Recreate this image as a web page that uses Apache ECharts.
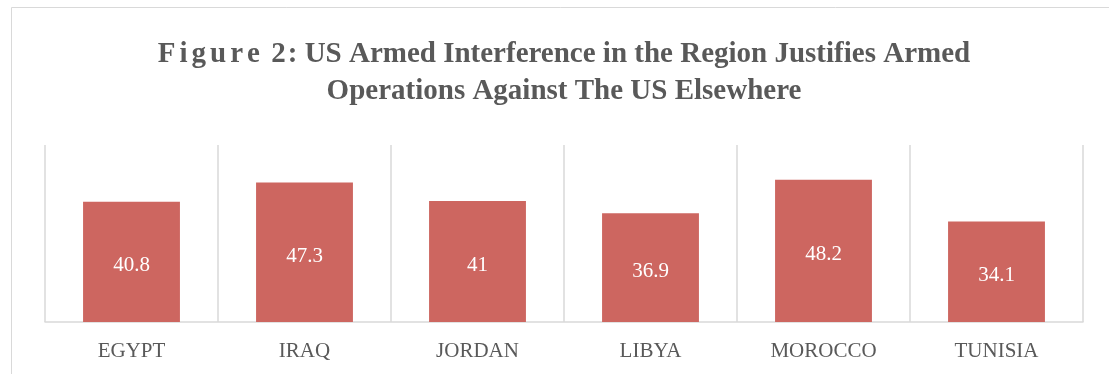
<!DOCTYPE html>
<html>
<head>
<meta charset="utf-8">
<script src="https://cdn.jsdelivr.net/npm/echarts@6/dist/echarts.min.js"></script>
<style>
html,body{margin:0;padding:0;background:#fff;}
#chart{width:1109px;height:374px;}
</style>
</head>
<body>
<div id="chart"></div>
<script>
const titleWord = 'Figure';
const titleNumber = '2:';
const titleLine1Rest = ' US Armed Interference in the Region Justifies Armed';
const titleLine2 = 'Operations Against The US Elsewhere';
const categories = ['EGYPT', 'IRAQ', 'JORDAN', 'LIBYA', 'MOROCCO', 'TUNISIA'];
const values = [40.8, 47.3, 41, 36.9, 48.2, 34.1];

const serif = '"Liberation Serif", "Times New Roman", serif';
const titleBase = {
  fontFamily: serif,
  fontWeight: 'bold',
  fontSize: 29,
  lineHeight: 37,
  color: '#595959'
};
const spacedWord = titleWord.split('').map(ch => '{sp|' + ch + '}').join('');
const titleText = spacedWord + '{t| }{sn|2}{t|:' + titleLine1Rest + '}\n{t|' + titleLine2 + '}';

const chart = echarts.init(document.getElementById('chart'), null, {renderer: 'canvas'});
chart.setOption({
  animation: false,
  backgroundColor: '#ffffff',
  graphic: [{
    type: 'rect',
    shape: {x: 11.5, y: 7.5, width: 1200, height: 400},
    style: {fill: 'none', stroke: '#d9d9d9', lineWidth: 1},
    silent: true
  }],
  title: {
    text: titleText,
    left: 564,
    top: 36,
    padding: 0,
    textAlign: 'center',
    textStyle: Object.assign({}, titleBase, {
      rich: {
        sp: Object.assign({}, titleBase, {padding: [0, 4, 0, 0]}),
        sn: Object.assign({}, titleBase, {padding: [0, 2, 0, 0]}),
        t: Object.assign({}, titleBase)
      }
    })
  },
  grid: {left: 45, right: 26, top: 145, bottom: 52, containLabel: false},
  xAxis: {
    type: 'category',
    data: categories,
    axisLine: {show: true, lineStyle: {color: '#d9d9d9', width: 1.5}},
    axisTick: {show: false},
    splitLine: {show: true, lineStyle: {color: '#d9d9d9', width: 1.5}},
    axisLabel: {
      margin: 19,
      fontFamily: serif,
      fontSize: 21,
      color: '#595959'
    }
  },
  yAxis: {
    type: 'value',
    min: 0,
    max: 60,
    show: false,
    splitLine: {show: false}
  },
  series: [{
    type: 'bar',
    data: values,
    barWidth: '56%',
    itemStyle: {color: '#cd6660'},
    label: {
      show: true,
      position: 'inside',
      offset: [0, 4],
      color: '#ffffff',
      fontFamily: serif,
      fontSize: 21
    }
  }]
});
</script>
</body>
</html>
